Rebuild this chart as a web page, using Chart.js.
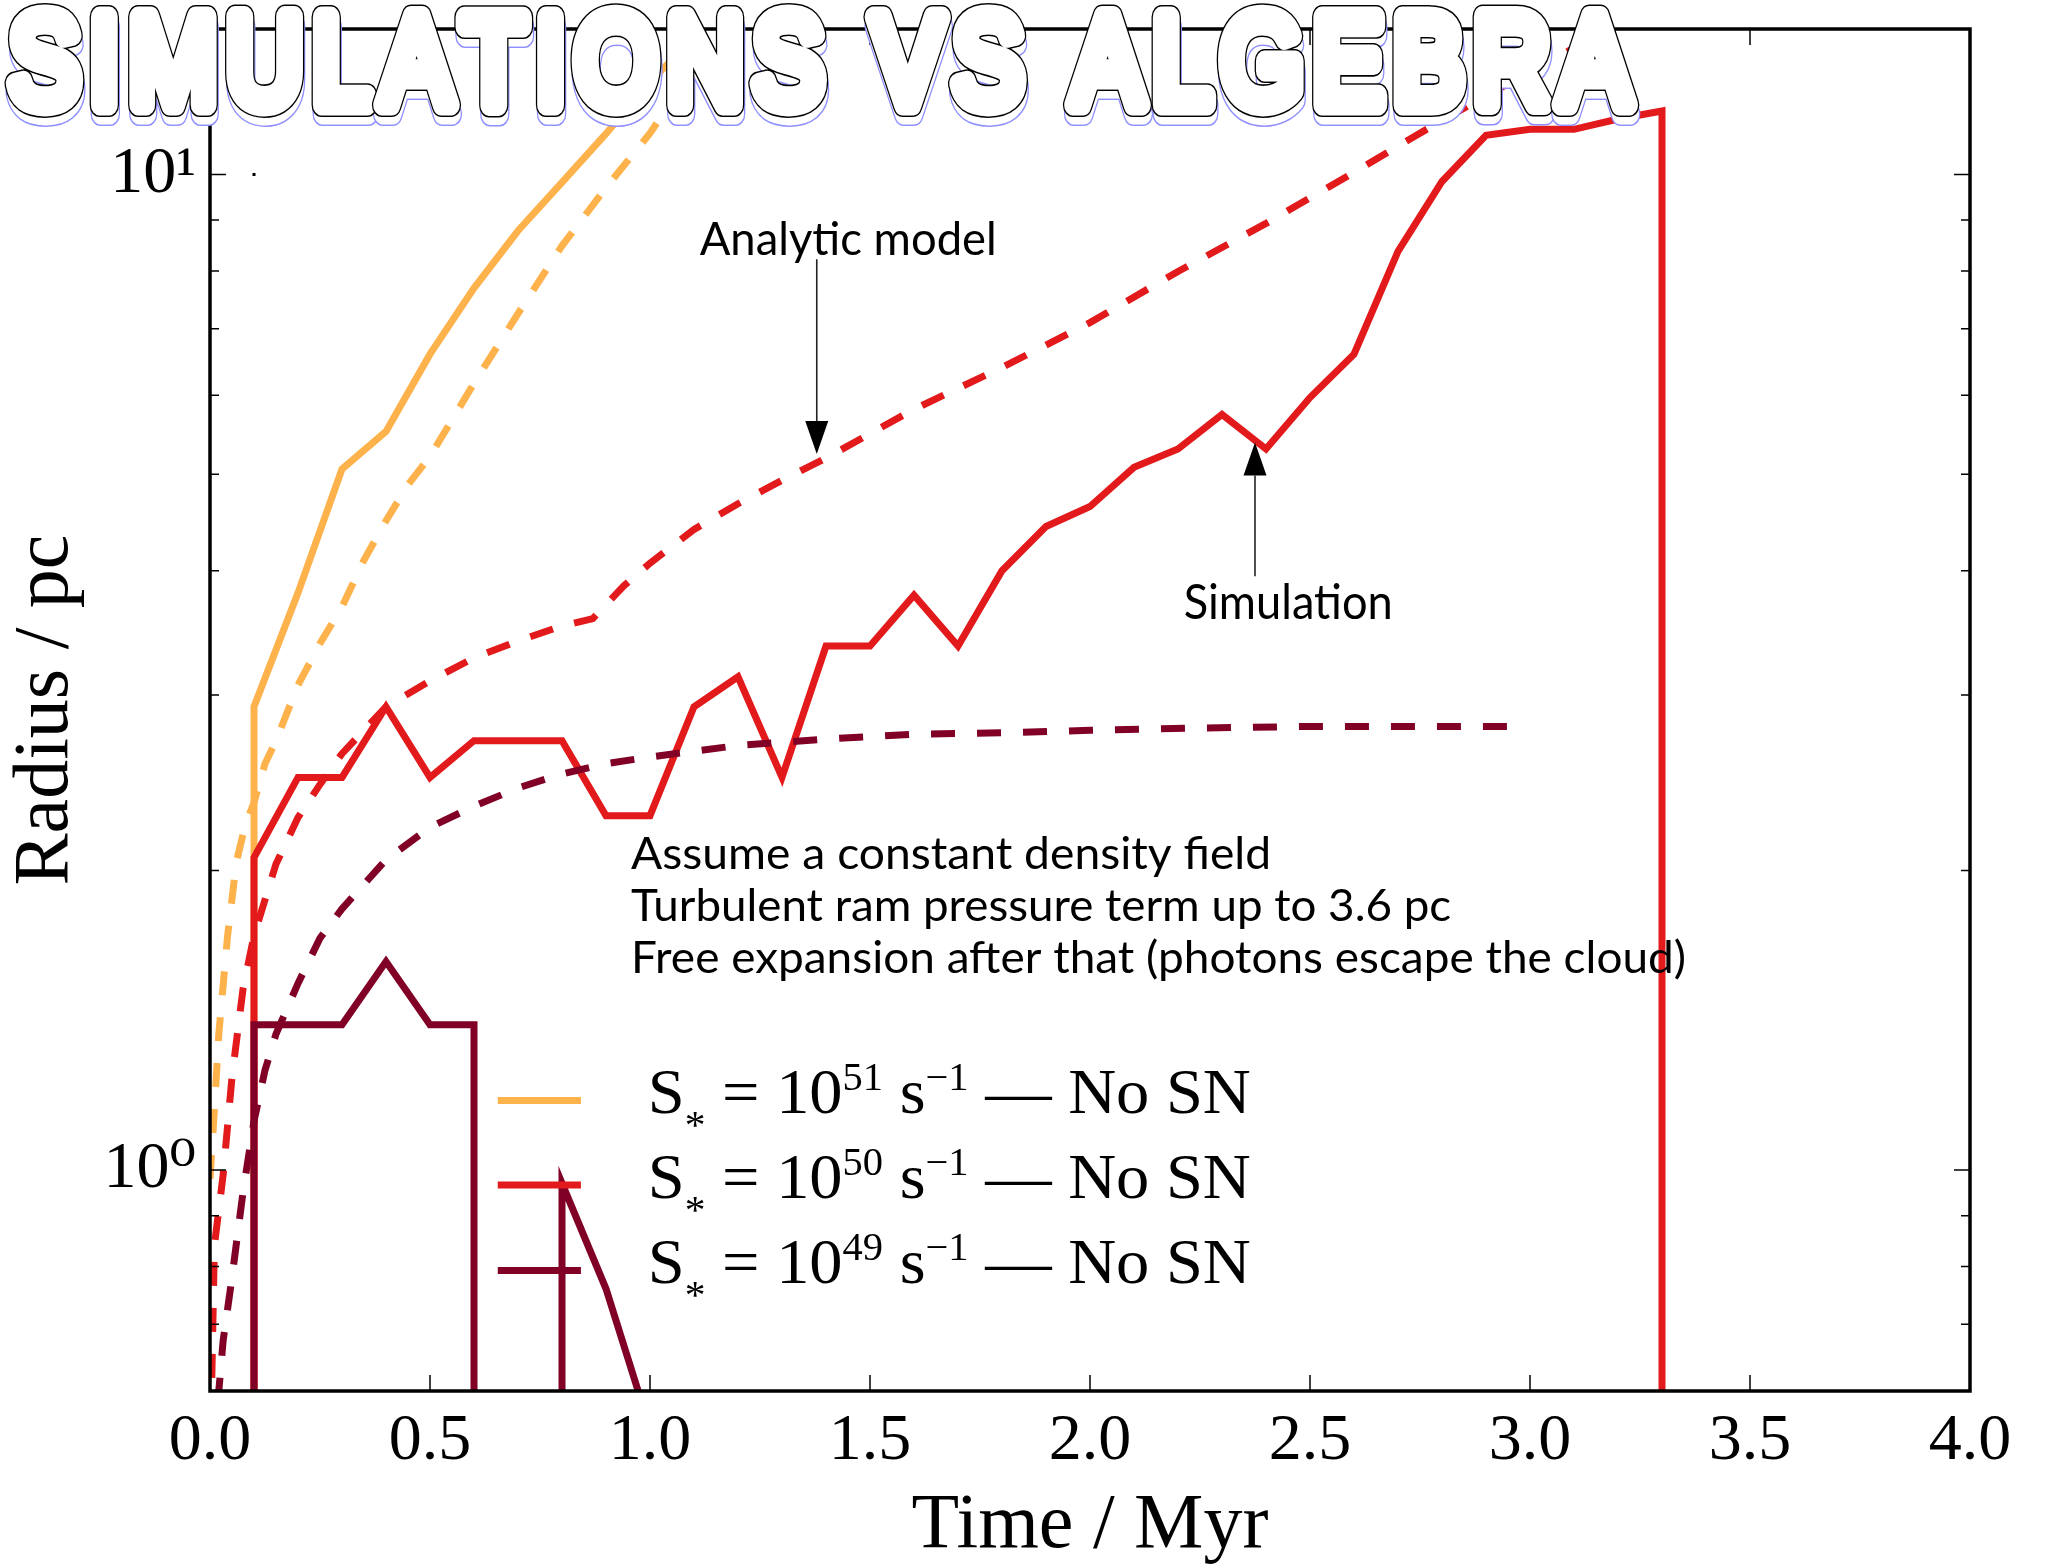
<!DOCTYPE html>
<html>
<head>
<meta charset="utf-8">
<script src="https://cdn.jsdelivr.net/npm/chart.js@4.4.0/dist/chart.umd.min.js"></script>
<style>
html,body{margin:0;padding:0;background:#ffffff;}
#wrap{width:2057px;height:1566px;position:relative;}
canvas{display:block;}
</style>
</head>
<body>
<div id="wrap"><canvas id="c" width="2057" height="1566"></canvas></div>
<script>
// ---------------- data ----------------
const titleText = 'SIMULATIONS VS ALGEBRA';
const xTitle = 'Time / Myr';
const yTitle = 'Radius / pc';
const xTickValues = [0, 0.5, 1, 1.5, 2, 2.5, 3, 3.5, 4];
const yMajorTicks = [1, 10];
const yTickLabels = ['10\u2070', '10\u00B9'];
const yMinorTicks = [0.7, 0.8, 0.9, 2, 3, 4, 5, 6, 7, 8, 9];

// S* = 1e51 : simulation (solid) and analytic (dashed)
const sim51T = [0.1, 0.1, 0.2, 0.3, 0.4, 0.5, 0.6, 0.7, 0.8, 0.9, 1.0, 1.1, 1.2];
const sim51R = [0.1, 2.92, 3.80, 5.06, 5.52, 6.60, 7.69, 8.78, 9.82, 10.99, 12.4, 13.7, 15.2];
const ana51T = [0, 0.01, 0.02, 0.04, 0.06, 0.08, 0.1, 0.125, 0.15, 0.2, 0.25, 0.3, 0.35, 0.4, 0.45, 0.5, 0.6, 0.7, 0.8, 0.9, 1.0, 1.1, 1.2];
const ana51R = [0.98, 1.15, 1.37, 1.72, 2.04, 2.22, 2.34, 2.56, 2.70, 3.07, 3.38, 3.68, 4.10, 4.49, 4.88, 5.21, 6.17, 7.25, 8.48, 9.70, 11.0, 12.8, 14.8];

// S* = 1e50
const sim50T = [0.1, 0.1, 0.2, 0.3, 0.4, 0.5, 0.6, 0.7, 0.8, 0.9, 1.0, 1.1, 1.2, 1.3, 1.4, 1.5, 1.6, 1.7, 1.8, 1.9, 2.0, 2.1, 2.2, 2.3, 2.4, 2.5, 2.6, 2.7, 2.8, 2.9, 3.0, 3.1, 3.2, 3.3, 3.3];
const sim50R = [0.1, 2.06, 2.48, 2.48, 2.92, 2.48, 2.70, 2.70, 2.70, 2.27, 2.27, 2.92, 3.13, 2.48, 3.36, 3.36, 3.78, 3.36, 4.00, 4.43, 4.64, 5.08, 5.30, 5.74, 5.30, 5.97, 6.60, 8.37, 9.84, 10.95, 11.10, 11.10, 11.37, 11.58, 0.1];
const ana50T = [0, 0.01, 0.03, 0.05, 0.075, 0.1, 0.15, 0.2, 0.25, 0.3, 0.4, 0.5, 0.6, 0.7, 0.8, 0.87, 0.94, 1.0, 1.1, 1.2, 1.3, 1.4, 1.6, 1.8, 2.0, 2.2, 2.4, 2.6, 2.74, 2.9, 3.1, 3.3];
const ana50R = [0.5, 0.84, 0.99, 1.24, 1.52, 1.72, 2.03, 2.26, 2.44, 2.62, 2.92, 3.10, 3.27, 3.40, 3.52, 3.58, 3.86, 4.07, 4.40, 4.67, 4.93, 5.19, 5.81, 6.40, 7.10, 7.99, 8.93, 10.05, 10.94, 12.0, 13.4, 15.0];

// S* = 1e49
const sim49T = [0.1, 0.1, 0.2, 0.3, 0.4, 0.5, 0.6, 0.6, 0.8, 0.8, 0.9, 1.0];
const sim49R = [0.1, 1.40, 1.40, 1.40, 1.62, 1.40, 1.40, 0.1, 0.1, 0.97, 0.76, 0.55];
const ana49T = [0, 0.02, 0.03, 0.05, 0.075, 0.1, 0.125, 0.15, 0.2, 0.25, 0.3, 0.4, 0.5, 0.6, 0.7, 0.8, 0.9, 1.0, 1.2, 1.4, 1.6, 1.8, 2.0, 2.25, 2.5, 2.75, 2.95];
const ana49R = [0.25, 0.6, 0.675, 0.78, 0.95, 1.12, 1.26, 1.37, 1.54, 1.71, 1.83, 2.05, 2.21, 2.32, 2.42, 2.50, 2.56, 2.60, 2.67, 2.71, 2.74, 2.75, 2.765, 2.78, 2.79, 2.79, 2.79];

const legendExponents = ['51', '50', '49'];
const annotationLabels = ['Analytic model', 'Simulation'];
const noteLines = ['Assume a constant density field', 'Turbulent ram pressure term up to 3.6 pc', 'Free expansion after that (photons escape the cloud)'];

// ---------------- styles / layout ----------------
const C_ORANGE = '#FEB24C', C_RED = '#E31A1C', C_DARK = '#800026';
const legendColors = [C_ORANGE, C_RED, C_DARK];
const SERIF = '"Liberation Serif", "DejaVu Serif", serif';
const SANS = 'Lato, "Noto Sans", sans-serif';
// layout anchors in data space (time, radius)
const LAYOUT = {
  legend: {t0: 0.654, t1: 0.843, tText: 0.995, rows: [1.175, 0.966, 0.793], textWidth: 603, baselineOffset: 13},
  analytic: {tText: 1.113, rText: 8.30, width: 297, tArrow: 1.379, rFrom: 8.22, rTo: 5.24},
  simulation: {tText: 2.213, rText: 3.58, width: 209, tArrow: 2.375, rFrom: 3.95, rTo: 5.38},
  notes: {tText: 0.957, rows: [2.005, 1.78, 1.577], widths: [640, 820, 1055]}
};

function pts(T, R) { return T.map((t, i) => ({x: t, y: R[i]})); }
const DASH = [24, 22];
const datasets = [
  {label: 'analytic 1e49', data: pts(ana49T, ana49R), borderColor: C_DARK, borderDash: DASH, order: 0},
  {label: 'simulation 1e49', data: pts(sim49T, sim49R), borderColor: C_DARK, order: 1},
  {label: 'analytic 1e50', data: pts(ana50T, ana50R), borderColor: C_RED, borderDash: DASH, order: 2},
  {label: 'simulation 1e50', data: pts(sim50T, sim50R), borderColor: C_RED, order: 3},
  {label: 'analytic 1e51', data: pts(ana51T, ana51R), borderColor: C_ORANGE, borderDash: DASH, order: 4},
  {label: 'simulation 1e51', data: pts(sim51T, sim51R), borderColor: C_ORANGE, order: 5}
].map(d => Object.assign({borderWidth: 7, pointRadius: 0, pointHoverRadius: 0, tension: 0, fill: false, clip: 0,
  borderCapStyle: 'butt', borderJoinStyle: 'miter'}, d));

// ---------------- drawing helpers ----------------
function fitText(ctx, text, x, y, width, font) {
  ctx.save();
  ctx.font = font;
  ctx.textAlign = 'left';
  ctx.textBaseline = 'alphabetic';
  const w = ctx.measureText(text).width;
  ctx.translate(x, y);
  ctx.scale(width / w, 1);
  ctx.fillText(text, 0, 0);
  ctx.restore();
}
function arrow(ctx, x, y0, y1) {
  const dir = Math.sign(y1 - y0);
  const headLen = 33, headW = 23;
  ctx.save();
  ctx.strokeStyle = '#222'; ctx.fillStyle = '#000'; ctx.lineWidth = 1.6;
  ctx.beginPath(); ctx.moveTo(x, y0); ctx.lineTo(x, y1 - dir * headLen); ctx.stroke();
  ctx.beginPath(); ctx.moveTo(x, y1); ctx.lineTo(x - headW / 2, y1 - dir * headLen); ctx.lineTo(x + headW / 2, y1 - dir * headLen); ctx.closePath(); ctx.fill();
  ctx.restore();
}
function legendText(ctx, x, baseline, exp, width) {
  const parts = [
    {s: 'S', f: 64, dy: 0}, {s: '*', f: 40, dy: 25}, {s: ' = 10', f: 64, dy: 0},
    {s: exp, f: 39, dy: -23}, {s: ' s', f: 64, dy: 0}, {s: '\u22121', f: 39, dy: -23},
    {s: ' \u2014 No SN', f: 64, dy: 0}
  ];
  let total = 0;
  parts.forEach(p => { ctx.font = p.f + 'px ' + SERIF; p.w = ctx.measureText(p.s).width; total += p.w; });
  ctx.save();
  ctx.fillStyle = '#000'; ctx.textBaseline = 'alphabetic'; ctx.textAlign = 'left';
  ctx.translate(x, baseline); ctx.scale(width / total, 1);
  let cx = 0;
  parts.forEach(p => { ctx.font = p.f + 'px ' + SERIF; ctx.fillText(p.s, cx, p.dy); cx += p.w; });
  ctx.restore();
}
function bubbleTitle(ctx) {
  const size = 125, W = 17, EDGE = 2.6, E = W + EDGE, CX = 0.84;
  const left = 4, right = 1640, top = 6, bottom = 116;
  ctx.save();
  ctx.font = size + 'px "Liberation Sans", Arial, sans-serif';
  ctx.textBaseline = 'alphabetic'; ctx.textAlign = 'left';
  const chars = Array.from(titleText);
  const n = chars.length;
  const ms = chars.map(c => ctx.measureText(c));
  const mAll = ctx.measureText(titleText);
  const gh = mAll.actualBoundingBoxAscent + mAll.actualBoundingBoxDescent;
  const gt = top + E / 2, gb = bottom - E / 2;
  const sy = (gb - gt) / gh;
  const gl = left + E / 2, gr = right - E / 2;
  let natural = ms[0].actualBoundingBoxLeft * CX + ms[n - 1].actualBoundingBoxRight * CX;
  for (let i = 0; i < n - 1; i++) natural += ms[i].width * CX;
  const gap = (gr - gl - natural) / (n - 1);
  const xs = [];
  let px = gl + ms[0].actualBoundingBoxLeft * CX;
  for (let i = 0; i < n; i++) { xs.push(px); px += ms[i].width * CX + gap; }
  const baseY = gt + mAll.actualBoundingBoxAscent * sy;
  function pass(dx, dy, edge) {
    chars.forEach((c, i) => {
      if (c === ' ') return;
      ctx.save();
      ctx.translate(xs[i] + dx, baseY + dy);
      ctx.scale(CX, sy);
      ctx.lineJoin = 'round'; ctx.lineCap = 'round';
      ctx.strokeStyle = edge; ctx.lineWidth = (W + EDGE) / CX;
      ctx.strokeText(c, 0, 0);
      ctx.strokeStyle = '#fff'; ctx.lineWidth = W / CX;
      ctx.strokeText(c, 0, 0);
      ctx.fillStyle = '#fff';
      ctx.fillText(c, 0, 0);
      ctx.restore();
    });
  }
  pass(1, 9, '#8f8fff');
  pass(0, 0, '#000');
  ctx.restore();
}

const overlay = {
  id: 'overlay',
  afterDraw(chart) {
    const ctx = chart.ctx, a = chart.chartArea, x = chart.scales.x, y = chart.scales.y;
    ctx.save();
    // inward ticks
    ctx.strokeStyle = '#000'; ctx.lineWidth = 1.5;
    ctx.beginPath();
    xTickValues.forEach(v => {
      const px = x.getPixelForValue(v);
      ctx.moveTo(px, a.bottom); ctx.lineTo(px, a.bottom - 16);
      ctx.moveTo(px, a.top); ctx.lineTo(px, a.top + 16);
    });
    yMajorTicks.forEach(v => {
      const py = y.getPixelForValue(v);
      ctx.moveTo(a.left, py); ctx.lineTo(a.left + 16, py);
      ctx.moveTo(a.right, py); ctx.lineTo(a.right - 16, py);
    });
    yMinorTicks.forEach(v => {
      const py = y.getPixelForValue(v);
      ctx.moveTo(a.left, py); ctx.lineTo(a.left + 9, py);
      ctx.moveTo(a.right, py); ctx.lineTo(a.right - 9, py);
    });
    ctx.stroke();
    // frame
    ctx.lineWidth = 3.5;
    ctx.strokeRect(a.left, a.top, a.right - a.left, a.bottom - a.top);

    // legend
    const L = LAYOUT.legend;
    L.rows.forEach((r, i) => {
      const py = y.getPixelForValue(r);
      ctx.strokeStyle = legendColors[i]; ctx.lineWidth = 7; ctx.lineCap = 'butt';
      ctx.beginPath(); ctx.moveTo(x.getPixelForValue(L.t0), py); ctx.lineTo(x.getPixelForValue(L.t1), py); ctx.stroke();
      legendText(ctx, x.getPixelForValue(L.tText), py + L.baselineOffset, legendExponents[i], L.textWidth);
    });

    // annotations
    ctx.fillStyle = '#000';
    const A = LAYOUT.analytic, S = LAYOUT.simulation, N = LAYOUT.notes;
    fitText(ctx, annotationLabels[0], x.getPixelForValue(A.tText), y.getPixelForValue(A.rText), A.width, '47px ' + SANS);
    arrow(ctx, x.getPixelForValue(A.tArrow), y.getPixelForValue(A.rFrom), y.getPixelForValue(A.rTo));
    fitText(ctx, annotationLabels[1], x.getPixelForValue(S.tText), y.getPixelForValue(S.rText), S.width, '48px ' + SANS);
    arrow(ctx, x.getPixelForValue(S.tArrow), y.getPixelForValue(S.rFrom), y.getPixelForValue(S.rTo));
    noteLines.forEach((s, i) => fitText(ctx, s, x.getPixelForValue(N.tText), y.getPixelForValue(N.rows[i]), N.widths[i], '44px ' + SANS));

    // small stray dot near 10^1
    ctx.fillStyle = '#000';
    ctx.fillRect(x.getPixelForValue(0.1) - 1.5, y.getPixelForValue(10) - 1.5, 3, 3);

    ctx.restore();
    bubbleTitle(ctx);
  }
};

new Chart(document.getElementById('c'), {
  type: 'line',
  data: {datasets},
  options: {
    responsive: false,
    animation: false,
    devicePixelRatio: 1,
    events: [],
    layout: {padding: {left: 0, right: 87, top: 29, bottom: 0}},
    plugins: {legend: {display: false}, tooltip: {enabled: false}, title: {display: false}},
    scales: {
      x: {
        type: 'linear', min: 0, max: 4,
        afterBuildTicks: s => { s.ticks = xTickValues.map(v => ({value: v})); },
        afterFit: s => { s.height = 175; s.paddingLeft = 0; s.paddingRight = 0; },
        grid: {display: false, drawTicks: false}, border: {display: false},
        ticks: {color: '#000', padding: 18, maxRotation: 0, autoSkip: false,
          font: {family: SERIF, size: 66, lineHeight: 1},
          callback: v => Number(v).toFixed(1)},
        title: {display: true, text: xTitle, color: '#000', padding: 0,
          font: {family: SERIF, size: 78, lineHeight: 1}}
      },
      y: {
        type: 'logarithmic', min: 0.6, max: 14,
        afterBuildTicks: s => { s.ticks = yMajorTicks.map(v => ({value: v})); },
        afterFit: s => { s.width = 210; s.paddingTop = 0; s.paddingBottom = 0; },
        grid: {display: false, drawTicks: false}, border: {display: false},
        ticks: {color: '#000', padding: 14, autoSkip: false,
          font: {family: SERIF, size: 66, lineHeight: 1},
          callback: (v, i) => yTickLabels[i]},
        title: {display: true, text: yTitle, color: '#000', padding: {top: 8, bottom: 0},
          font: {family: SERIF, size: 78, lineHeight: 1}}
      }
    }
  },
  plugins: [overlay]
});
</script>
</body>
</html>
